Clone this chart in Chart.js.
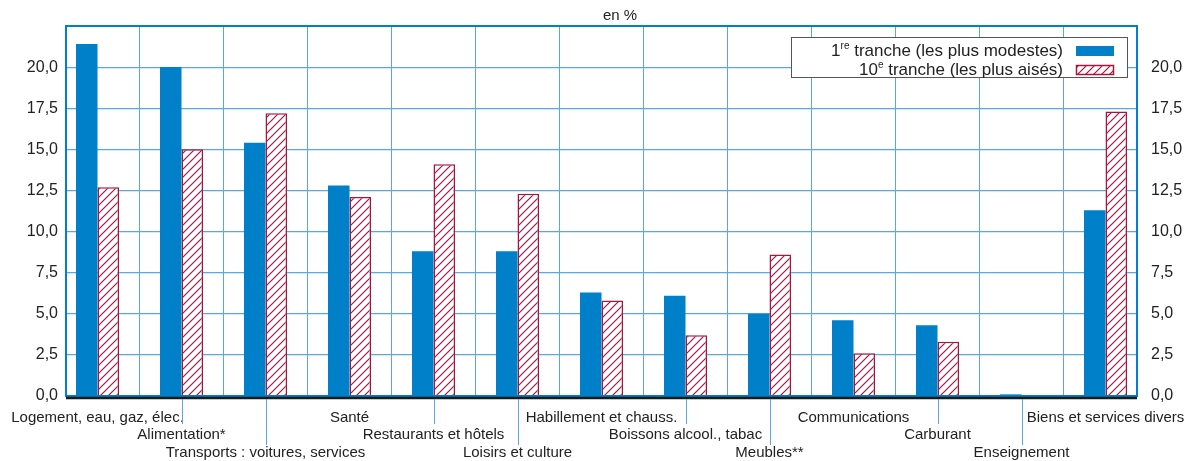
<!DOCTYPE html>
<html>
<head>
<meta charset="utf-8">
<script src="https://cdn.jsdelivr.net/npm/chart.js@4/dist/chart.umd.min.js"></script>
<style>
    body { margin: 0; background: #fff; }
    #wrap { width: 1192px; height: 461px; position: relative; }
</style>
</head>
<body>
<div id="wrap"><canvas id="depChart"></canvas></div>
<script>
const categories = [
    "Logement, eau, gaz, élec.", "Alimentation*", "Transports : voitures, services",
    "Santé", "Restaurants et hôtels", "Loisirs et culture",
    "Habillement et chauss.", "Boissons alcool., tabac", "Meubles**",
    "Communications", "Carburant", "Enseignement", "Biens et services divers"
];
const tranche1 = [21.4, 20.0, 15.4, 12.8, 8.8, 8.8, 6.3, 6.1, 5.0, 4.6, 4.3, 0.1, 11.3];
const tranche10 = [12.7, 15.0, 17.2, 12.1, 14.1, 12.3, 5.8, 3.7, 8.6, 2.6, 3.3, 0.0, 17.3];
const labelRows = [0, 1, 2, 0, 1, 2, 0, 1, 2, 0, 1, 2, 0];
const yTicks = [0, 2.5, 5, 7.5, 10, 12.5, 15, 17.5, 20];

const BLUE = "#0080c8";
const RED = "#a8153f";
const GRID = "#5aa9de";
const FONT = "'Liberation Sans', Arial, sans-serif";

function hatch() {
    const n = 8;
    const c = document.createElement("canvas");
    c.width = n; c.height = n;
    const g = c.getContext("2d");
    g.fillStyle = "#fff";
    g.fillRect(0, 0, n, n);
    g.strokeStyle = RED;
    g.lineWidth = 1.2;
    g.beginPath();
    g.moveTo(-1, n + 1); g.lineTo(n + 1, -1);
    g.moveTo(-1, 1); g.lineTo(1, -1);
    g.moveTo(n - 1, n + 1); g.lineTo(n + 1, n - 1);
    g.stroke();
    return g.createPattern(c, "repeat");
}
const hatchFill = hatch();

const fmt = v => v.toFixed(1).replace(".", ",");

const decor = {
    id: "decor",
    afterDraw(chart) {
        const ctx = chart.ctx;
        const a = chart.chartArea;
        const x = chart.scales.x;
        ctx.save();

        // plot frame
        ctx.strokeStyle = BLUE;
        ctx.lineWidth = 2;
        ctx.strokeRect(a.left, a.top, a.right - a.left, a.bottom - a.top);
        ctx.strokeStyle = "#1a1a1a";
        ctx.lineWidth = 2.5;
        ctx.beginPath();
        ctx.moveTo(a.left, a.bottom + 2);
        ctx.lineTo(a.right, a.bottom + 2);
        ctx.stroke();

        // category labels, staggered on three rows
        const rowY = [418, 434.5, 452.5];
        const leadEnd = [0, 424, 445];
        ctx.font = "15px " + FONT;
        ctx.fillStyle = "#222";
        ctx.textAlign = "center";
        ctx.textBaseline = "middle";
        categories.forEach((c, i) => {
            const px = x.getPixelForValue(i);
            const r = labelRows[i];
            if (r > 0) {
                ctx.strokeStyle = GRID;
                ctx.lineWidth = 1;
                ctx.beginPath();
                ctx.moveTo(Math.round(px) + 0.5, a.bottom + 3);
                ctx.lineTo(Math.round(px) + 0.5, leadEnd[r]);
                ctx.stroke();
            }
            ctx.fillText(c, px, rowY[r]);
        });

        // unit
        ctx.font = "15px " + FONT;
        ctx.fillText("en %", 620, 16);

        // legend
        ctx.fillStyle = "#fff";
        ctx.fillRect(791, 37, 337, 41);
        ctx.strokeStyle = "#555";
        ctx.lineWidth = 1;
        ctx.strokeRect(791.5, 37.5, 336, 40);
        const entries = [
            ["1", "re", " tranche (les plus modestes)", 51],
            ["10", "e", " tranche (les plus aisés)", 70]
        ];
        ctx.textAlign = "left";
        ctx.fillStyle = "#222";
        entries.forEach(e => {
            ctx.font = "17px " + FONT;
            const w1 = ctx.measureText(e[0]).width;
            const w3 = ctx.measureText(e[2]).width;
            ctx.font = "10px " + FONT;
            const w2 = ctx.measureText(e[1]).width;
            let sx = 1063 - w1 - w2 - w3;
            ctx.font = "17px " + FONT;
            ctx.fillText(e[0], sx, e[3]);
            ctx.font = "10px " + FONT;
            ctx.fillText(e[1], sx + w1, e[3] - 5);
            ctx.font = "17px " + FONT;
            ctx.fillText(e[2], sx + w1 + w2, e[3]);
        });
        ctx.fillStyle = BLUE;
        ctx.fillRect(1076, 46, 38, 10);
        ctx.fillStyle = hatchFill;
        ctx.fillRect(1076, 65, 38, 10);
        ctx.strokeStyle = RED;
        ctx.lineWidth = 1.5;
        ctx.strokeRect(1076.5, 65.5, 37, 9);

        ctx.restore();
    }
};

new Chart(document.getElementById("depChart"), {
    type: "bar",
    data: {
        datasets: [{
            label: "1re tranche (les plus modestes)",
            data: tranche1.map((v, i) => ({ x: i, y: v })),
            backgroundColor: BLUE,
            borderWidth: 0
        }, {
            label: "10e tranche (les plus aisés)",
            data: tranche10.map((v, i) => ({ x: i, y: v })),
            backgroundColor: hatchFill,
            borderColor: RED,
            borderWidth: 1.5
        }]
    },
    options: {
        responsive: true,
        maintainAspectRatio: false,
        animation: false,
        layout: { padding: { top: 26, left: 0, right: 0, bottom: 0 } },
        datasets: { bar: { barPercentage: 1, categoryPercentage: 0.512, grouped: true } },
        plugins: { legend: { display: false }, tooltip: { enabled: false } },
        scales: {
            x: {
                type: "linear",
                offset: false,
                min: -0.375,
                max: 12.375,
                afterBuildTicks: ax => { ax.ticks = categories.slice(1).map((c, i) => ({ value: i + 0.5 })); },
                afterFit: ax => { ax.height = 65; },
                ticks: { display: false },
                grid: { color: GRID, lineWidth: 1, drawTicks: false, offset: false },
                border: { display: false }
            },
            y: {
                min: 0,
                max: 22.5,
                afterBuildTicks: ax => { ax.ticks = yTicks.map(v => ({ value: v })); },
                afterFit: ax => { ax.width = 66; },
                ticks: { padding: 8, color: "#222", font: { family: FONT, size: 16 }, callback: v => fmt(v) },
                grid: { color: GRID, lineWidth: 1.2, drawTicks: false },
                border: { display: false }
            },
            y2: {
                position: "right",
                min: 0,
                max: 22.5,
                afterBuildTicks: ax => { ax.ticks = yTicks.map(v => ({ value: v })); },
                afterFit: ax => { ax.width = 55; },
                ticks: { padding: 14, color: "#222", font: { family: FONT, size: 16 }, callback: v => fmt(v) },
                grid: { display: false, drawTicks: false },
                border: { display: false }
            }
        }
    },
    plugins: [decor]
});
</script>
</body>
</html>
